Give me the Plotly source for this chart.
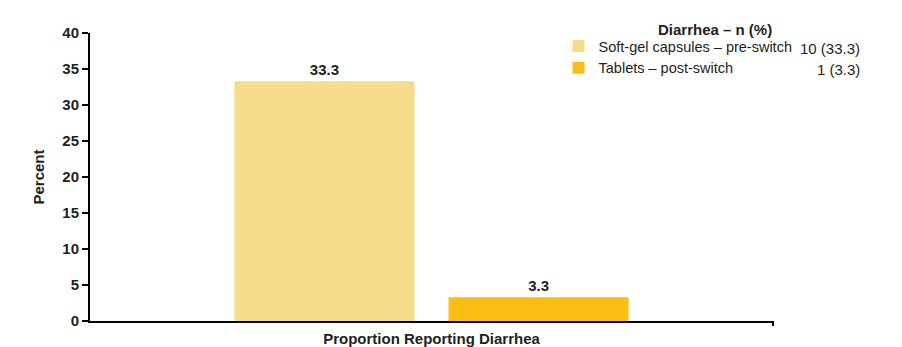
import plotly.graph_objects as go

categories = ["Proportion Reporting Diarrhea"]
series_names = ["Soft-gel capsules – pre-switch", "Tablets – post-switch"]
series_values = [[33.3], [3.3]]
series_counts = ["10 (33.3)", "1 (3.3)"]
series_colors = ["#F6DC88", "#FCBC16"]
y_ticks = [0, 5, 10, 15, 20, 25, 30, 35, 40]

FONT = "Liberation Sans, Arial, sans-serif"
INK = "#231F20"

fig = go.Figure()
for name, vals, col in zip(series_names, series_values, series_colors):
    fig.add_trace(go.Bar(
        x=categories, y=vals, name=name,
        marker=dict(color=col, line=dict(width=0)),
        text=[f"<b>{v}</b>" for v in vals], textposition="outside",
        textfont=dict(family=FONT, size=15, color=INK),
        cliponaxis=False,
    ))

fig.update_layout(
    width=902, height=347,
    margin=dict(l=90, r=129, t=33, b=26),
    paper_bgcolor="white", plot_bgcolor="white",
    barmode="group", bargap=0.373, bargroupgap=0.159,
    font=dict(family=FONT, color=INK, size=14),
    showlegend=True,
    legend=dict(
        x=0.686, y=1.0104, xanchor="left", yanchor="top",
        font=dict(family=FONT, size=14.5, color=INK),
        bgcolor="rgba(0,0,0,0)", tracegroupgap=0,
        itemwidth=30,
    ),
    xaxis=dict(
        showline=True, linecolor="black", linewidth=2,
        ticks="", showticklabels=False, automargin=False,
        title=dict(text="<b>Proportion Reporting Diarrhea</b>",
                   font=dict(family=FONT, size=15, color=INK), standoff=12),
    ),
    yaxis=dict(
        range=[0, 40], tickvals=y_ticks, automargin=False,
        showline=True, linecolor="black", linewidth=2,
        ticks="outside", ticklen=6, tickwidth=1.5, tickcolor="black",
        showgrid=False, zeroline=False,
        tickfont=dict(family=FONT, size=15, color=INK),
        ticktext=[f"<b>{t}</b>" for t in y_ticks], tickmode="array",
        title=dict(text="<b>Percent</b>", font=dict(family=FONT, size=15, color=INK),
                   standoff=14),
    ),
)

# small end tick at right of x axis
fig.add_shape(type="line", xref="paper", yref="paper", x0=1, x1=1,
              y0=0, y1=-5 / 288, line=dict(color="black", width=2))

fig.add_annotation(xref="paper", yref="paper", x=(715 - 90) / 683, y=1.0 + 4 / 288,
                   text="<b>Diarrhea – n (%)</b>", showarrow=False,
                   xanchor="center", yanchor="middle",
                   font=dict(family=FONT, size=15, color=INK))
for i, c in enumerate(series_counts):
    fig.add_annotation(xref="paper", yref="paper", x=(862 - 90) / 683,
                       y=1.0 - (15 + 21 * i) / 288,
                       text=c, showarrow=False, xanchor="right", yanchor="middle",
                       font=dict(family=FONT, size=15, color=INK))

fig.write_html("out.html")
